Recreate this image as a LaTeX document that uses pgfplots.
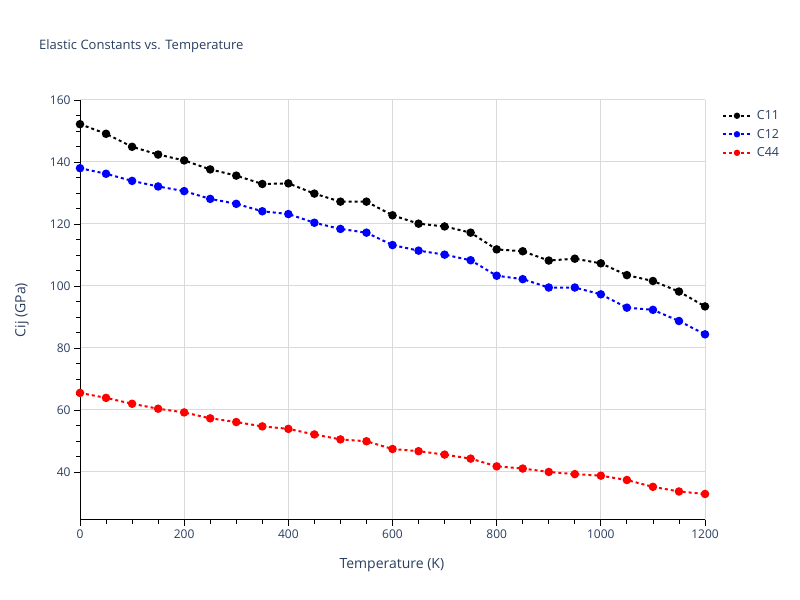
\documentclass[border=0pt]{standalone}
\usepackage{fontspec}
\setmainfont{Open Sans}
\usepackage{pgfplots}
\pgfplotsset{compat=1.18}
\definecolor{txt}{RGB}{42,63,95}
\definecolor{grd}{RGB}{218,218,218}
\begin{document}
\begin{tikzpicture}[x=1bp,y=1bp]
\path[use as bounding box] (0,0) rectangle (800,600);
\begin{axis}[
  at={(80bp,80bp)}, anchor=south west,
  scale only axis, width=625bp, height=420bp,
  xmin=0, xmax=1200, ymin=24.5, ymax=160,
  xtick={0,200,...,1200}, ytick={40,60,...,160},
  minor x tick num=3, minor y tick num=3,
  axis x line*=bottom, axis y line*=left,
  axis line style={black, line width=1bp, -},
  tick align=outside,
  major tick length=6bp, minor tick length=4bp,
  every tick/.style={black, line width=0.8bp},
  grid=major,
  major grid style={grd, line width=1bp},
  /pgf/number format/assume math mode=true,
  /pgf/number format/1000 sep={},
  ticklabel style={font=\fontsize{12bp}{14bp}\selectfont, text=txt},
  xlabel={Temperature (K)}, ylabel={Cij (GPa)},
  label style={font=\fontsize{14bp}{17bp}\selectfont, text=txt},
  xlabel style={at={(axis description cs:0.499,-0.107)}, anchor=center},
  ylabel style={at={(axis description cs:-0.093,0.5)}, anchor=center},
  title={Elastic Constants vs. Temperature},
  title style={at={(axis description cs:-0.071,1.105)}, anchor=base west, font=\fontsize{13bp}{16bp}\selectfont, text=txt},
  legend style={at={(1.022,0.985)}, anchor=north west, draw=none, fill=none,
    font=\fontsize{12.5bp}{14bp}\selectfont, text=txt, row sep=4bp,
    legend cell align=left,
    /tikz/every odd column/.append style={column sep=3bp}},
  legend image code/.code={
    \draw[#1, mark=none, -, line width=2bp, dash pattern=on 3bp off 3bp] (0bp,0bp) -- (28bp,0bp);
    \fill[#1, draw=none] (14bp,0bp) circle (3.2bp);
  },
  every axis plot/.append style={line width=2bp, dash pattern=on 3bp off 3bp, mark=*, mark size=3.2bp, mark options={solid}},
  clip=false,
]
\addplot[black] coordinates {
(0,152.2) (50,149.1) (100,144.9) (150,142.4) (200,140.5) (250,137.6) (300,135.6)
(350,132.9) (400,133.1) (450,129.8) (500,127.2) (550,127.2) (600,122.8) (650,120.1)
(700,119.2) (750,117.2) (800,111.8) (850,111.2) (900,108.2) (950,108.8) (1000,107.3)
(1050,103.5) (1100,101.6) (1150,98.2) (1200,93.4)};
\addlegendentry{C11}
\addplot[blue] coordinates {
(0,138.0) (50,136.2) (100,133.9) (150,132.1) (200,130.6) (250,128.1) (300,126.5)
(350,124.1) (400,123.2) (450,120.4) (500,118.4) (550,117.2) (600,113.2) (650,111.4)
(700,110.1) (750,108.3) (800,103.3) (850,102.2) (900,99.5) (950,99.5) (1000,97.3)
(1050,93.0) (1100,92.3) (1150,88.7) (1200,84.4)};
\addlegendentry{C12}
\addplot[red] coordinates {
(0,65.5) (50,63.9) (100,62.0) (150,60.4) (200,59.2) (250,57.3) (300,56.1)
(350,54.7) (400,53.9) (450,52.1) (500,50.5) (550,49.9) (600,47.4) (650,46.7)
(700,45.6) (750,44.3) (800,41.8) (850,41.1) (900,40.0) (950,39.3) (1000,38.8)
(1050,37.4) (1100,35.2) (1150,33.7) (1200,32.9)};
\addlegendentry{C44}
\end{axis}
\end{tikzpicture}
\end{document}
